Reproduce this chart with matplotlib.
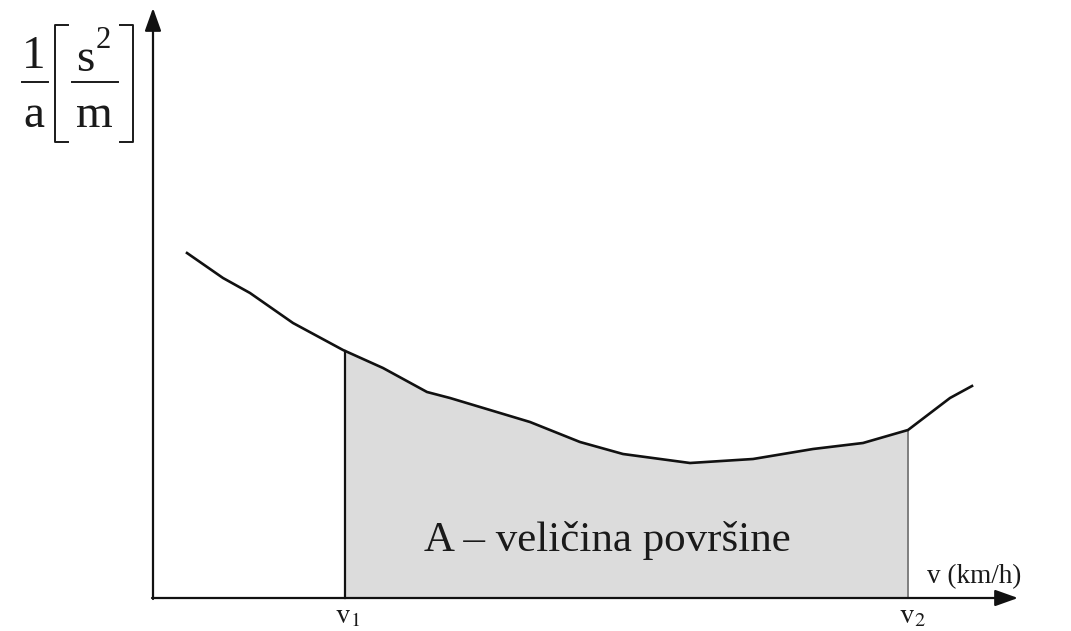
import matplotlib.pyplot as plt
import numpy as np

plt.rcParams['mathtext.fontset'] = 'stix'
plt.rcParams['font.family'] = ['Liberation Serif', 'DejaVu Serif']

# curve 1/a over speed (drawing units, origin at the axes corner)
speed = [34, 70, 97, 140, 190, 230, 274, 297, 377, 427, 470, 537, 600, 660, 710, 755, 797, 819]
inv_acc = [345, 320, 305, 275, 248, 230, 206, 200, 176, 156, 144, 135, 139, 149, 155, 168, 200, 212]
v1, v2 = 192, 755

fig = plt.figure(figsize=(10.71, 6.31), dpi=100)
ax = fig.add_axes([0, 0, 1, 1])
ax.set_xlim(-153, 918)
ax.set_ylim(-33, 598)
ax.axis('off')

ink = '#1a1a1a'

# shaded area between v1 and v2
xs = np.array(speed, dtype=float)
ys = np.array(inv_acc, dtype=float)
xf = np.concatenate([[v1], xs[(xs > v1) & (xs < v2)], [v2]])
yf = np.interp(xf, xs, ys)
ax.fill_between(xf, 0, yf, color='#dcdcdc', lw=0)
ax.plot([v1, v1], [0, np.interp(v1, xs, ys)], color='#111111', lw=1.6)
ax.plot([v2, v2], [0, np.interp(v2, xs, ys)], color='#777777', lw=1.3)

ax.plot(xs, ys, color='#111111', lw=1.9, solid_joinstyle='round')

# axes with arrow heads
arrow = dict(arrowstyle='-|>,head_length=1.4,head_width=0.5', color='#111111', lw=1.6,
             shrinkA=0, shrinkB=0)
ax.annotate('', xy=(0, 590), xytext=(0, -1), arrowprops=arrow)
ax.annotate('', xy=(865, 0), xytext=(-1, 0), arrowprops=arrow)

ax.text(v1 + 3, -18, r'$\mathrm{v}_1$', fontsize=21, ha='center', va='center', color=ink)
ax.text(v2 + 4, -18, r'$\mathrm{v}_2$', fontsize=21, ha='center', va='center', color=ink)
ax.text(821, 21, 'v (km/h)', fontsize=19.5, ha='center', va='center', color=ink)
ax.text(454, 58, 'A – veličina površine', fontsize=31, ha='center', va='center', color=ink)

# y label: 1/a [s^2/m]
lab = dict(fontsize=34, ha='center', va='baseline', color=ink)
ax.text(-119, 530, '1', **lab)
ax.text(-119, 471, 'a', **lab)
ax.plot([-131, -105], [516, 516], color=ink, lw=1.4)
ax.text(-68, 527, 's', **lab)
ax.text(-50, 550, '2', fontsize=22, ha='center', va='baseline', color=ink)
ax.text(-59, 471, 'm', **lab)
ax.plot([-81, -35], [516, 516], color=ink, lw=1.4)
ax.plot([-85, -98, -98, -85], [573, 573, 456, 456], color=ink, lw=1.4)
ax.plot([-33, -20, -20, -33], [573, 573, 456, 456], color=ink, lw=1.4)

fig.savefig('out.png', dpi=100)
